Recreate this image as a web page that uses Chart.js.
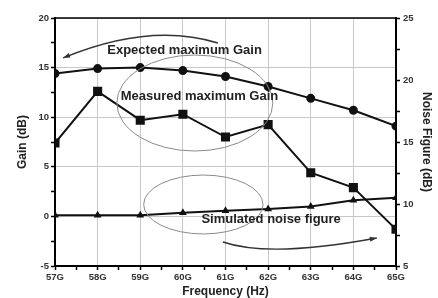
<!DOCTYPE html>
<html>
<head>
<meta charset="utf-8">
<script src="https://cdn.jsdelivr.net/npm/chart.js@4/dist/chart.umd.min.js"></script>
<style>
  html, body { margin: 0; padding: 0; background: #fff; }
</style>
</head>
<body>
<canvas id="chart" width="438" height="298"></canvas>
<script>
// frequencies in GHz
const freqs = [57, 58, 59, 60, 61, 62, 63, 64, 65];
const expectedGain = [14.4, 14.9, 15.0, 14.7, 14.1, 13.1, 11.9, 10.7, 9.1];
const measuredGain = [7.4, 12.6, 9.7, 10.3, 8.0, 9.25, 4.4, 2.9, -1.3];
const noiseFigure = [9.1, 9.1, 9.1, 9.3, 9.45, 9.6, 9.8, 10.3, 10.5];

const FONT = "'Liberation Sans', Arial, sans-serif";

function pts(vals) {
  return freqs.map(function (f, i) { return { x: f, y: vals[i] }; });
}

function arrowHead(ctx, fx, fy, tx, ty) {
  var a = Math.atan2(ty - fy, tx - fx);
  ctx.beginPath();
  ctx.moveTo(tx, ty);
  ctx.lineTo(tx - 7 * Math.cos(a) + 2.5 * Math.sin(a), ty - 7 * Math.sin(a) - 2.5 * Math.cos(a));
  ctx.lineTo(tx - 7 * Math.cos(a) - 2.5 * Math.sin(a), ty - 7 * Math.sin(a) + 2.5 * Math.cos(a));
  ctx.closePath();
  ctx.fill();
}

// ellipses, arrows and labels drawn on top
const notes = {
  id: "notes",
  afterDatasetsDraw: function (chart) {
    var ctx = chart.ctx, xs = chart.scales.x, ys = chart.scales.y;
    var X = function (v) { return xs.getPixelForValue(v); };
    var Y = function (v) { return ys.getPixelForValue(v); };
    var a = chart.chartArea;
    ctx.save();

    // top frame line
    ctx.strokeStyle = "#000";
    ctx.lineWidth = 1.5;
    ctx.beginPath();
    ctx.moveTo(a.left, a.top);
    ctx.lineTo(a.right, a.top);
    ctx.stroke();

    // ellipses
    ctx.strokeStyle = "#8a8a8a";
    ctx.lineWidth = 1;
    ctx.beginPath();
    ctx.ellipse(X(60.28), Y(11.43), X(58.83) - X(57), Y(15.16) - Y(20), 0, 0, Math.PI * 2);
    ctx.stroke();
    ctx.beginPath();
    ctx.ellipse(X(60.48), Y(1.2), X(58.4) - X(57), Y(17.03) - Y(20), 0, 0, Math.PI * 2);
    ctx.stroke();

    // arrows
    ctx.strokeStyle = "#333";
    ctx.fillStyle = "#333";
    ctx.lineWidth = 1.4;
    var s = [X(60.82), Y(17.48)], c = [X(59.23), Y(19.6)], e = [X(57.19), Y(15.97)];
    ctx.beginPath();
    ctx.moveTo(s[0], s[1]);
    ctx.quadraticCurveTo(c[0], c[1], e[0], e[1]);
    ctx.stroke();
    arrowHead(ctx, c[0], c[1], e[0], e[1]);

    s = [X(60.94), Y(-2.58)]; c = [X(62.04), Y(-4.19)]; e = [X(64.55), Y(-2.18)];
    ctx.beginPath();
    ctx.moveTo(s[0], s[1]);
    ctx.quadraticCurveTo(c[0], c[1], e[0], e[1]);
    ctx.stroke();
    arrowHead(ctx, c[0], c[1], e[0], e[1]);

    // labels
    ctx.fillStyle = "#222";
    ctx.font = "bold 13px " + FONT;
    ctx.textAlign = "center";
    ctx.textBaseline = "middle";
    ctx.fillText("Expected maximum Gain", X(60.04), Y(16.77));
    ctx.fillText("Measured maximum Gain", X(60.39), Y(12.14));
    ctx.fillText("Simulated noise figure", X(62.07), Y(-0.26));
    ctx.restore();
  }
};

new Chart(document.getElementById("chart"), {
  type: "line",
  data: {
    datasets: [
      {
        label: "Expected maximum Gain",
        data: pts(expectedGain),
        borderColor: "#111",
        backgroundColor: "#111",
        borderWidth: 2,
        pointStyle: "circle",
        pointRadius: 3.5,
        yAxisID: "y"
      },
      {
        label: "Measured maximum Gain",
        data: pts(measuredGain),
        borderColor: "#111",
        backgroundColor: "#111",
        borderWidth: 2,
        pointStyle: "rect",
        pointRadius: 5,
        yAxisID: "y"
      },
      {
        label: "Simulated noise figure",
        data: pts(noiseFigure),
        borderColor: "#111",
        backgroundColor: "#111",
        borderWidth: 2,
        pointStyle: "triangle",
        pointRadius: 2.5,
        yAxisID: "y1"
      }
    ]
  },
  options: {
    responsive: false,
    animation: false,
    layout: { padding: { top: 18, left: 0, right: 0, bottom: 0 } },
    plugins: { legend: { display: false }, tooltip: { enabled: false } },
    scales: {
      x: {
        type: "linear",
        min: 57,
        max: 65,
        afterFit: function (s) { s.height = 32; },
        ticks: {
          stepSize: 0.5,
          autoSkip: false,
          maxRotation: 0,
          padding: 2,
          color: "#333",
          font: { family: FONT, size: 9.5, weight: "bold" },
          callback: function (v) { return Number.isInteger(v) ? v + "G" : ""; }
        },
        grid: {
          color: function (c) { return c.tick && Number.isInteger(c.tick.value) ? "#c8c8c8" : "rgba(0,0,0,0)"; },
          tickColor: "#000",
          tickLength: 4,
          tickWidth: 1.5
        },
        border: { color: "#000", width: 2 },
        title: {
          display: true,
          text: "Frequency (Hz)",
          color: "#222",
          font: { family: FONT, size: 12, weight: "bold", lineHeight: 1 },
          padding: { top: 0, bottom: 0 }
        }
      },
      y: {
        position: "left",
        min: -5,
        max: 20,
        afterFit: function (s) { s.width = 55; },
        ticks: {
          stepSize: 2.5,
          padding: 2,
          color: "#333",
          font: { family: FONT, size: 9.5, weight: "bold" },
          callback: function (v) { return v % 5 === 0 ? v : ""; }
        },
        grid: {
          color: function (c) { return c.tick && c.tick.value % 5 === 0 ? "#c8c8c8" : "rgba(0,0,0,0)"; },
          tickColor: "#000",
          tickLength: 4,
          tickWidth: 1.5
        },
        border: { color: "#000", width: 2 },
        title: {
          display: true,
          text: "Gain (dB)",
          color: "#222",
          font: { family: FONT, size: 12, weight: "bold" },
          padding: { top: 15, bottom: 0 }
        }
      },
      y1: {
        position: "right",
        min: 5,
        max: 25,
        afterFit: function (s) { s.width = 42; },
        ticks: {
          stepSize: 2.5,
          padding: 3,
          color: "#333",
          font: { family: FONT, size: 9.5, weight: "bold" },
          callback: function (v) { return v % 5 === 0 ? v : ""; }
        },
        grid: {
          drawOnChartArea: false,
          tickColor: "#000",
          tickLength: 4,
          tickWidth: 1.5
        },
        border: { color: "#000", width: 2 },
        title: {
          display: true,
          text: "Noise Figure (dB)",
          color: "#222",
          font: { family: FONT, size: 12, weight: "bold" },
          padding: { top: 4, bottom: 0 }
        }
      }
    }
  },
  plugins: [notes]
});
</script>
</body>
</html>
